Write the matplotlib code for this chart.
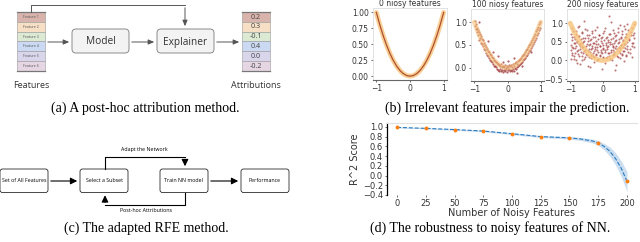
#Recreates the four panel figure: two diagrams and three plots
import matplotlib.pyplot as plt
from matplotlib.patches import FancyBboxPatch, Rectangle

# ---- data ----
feature_names = ["Feature 1", "Feature 2", "Feature 3", "Feature 4", "Feature 5", "Feature 6"]
attributions = ["0.2", "0.3", "-0.1", "0.4", "0.0", "-0.2"]
cell_colors = ["#d9b4ac", "#f6dfc5", "#dcead3", "#cbdaf2", "#d9d6ec", "#e6d6e4"]

# true function (parabola)
curve_x = [-1.0, -0.9, -0.8, -0.7, -0.6, -0.5, -0.4, -0.3, -0.2, -0.1, 0.0,
           0.1, 0.2, 0.3, 0.4, 0.5, 0.6, 0.7, 0.8, 0.9, 1.0]
curve_y = [1.0, 0.81, 0.64, 0.49, 0.36, 0.25, 0.16, 0.09, 0.04, 0.01, 0.0,
           0.01, 0.04, 0.09, 0.16, 0.25, 0.36, 0.49, 0.64, 0.81, 1.0]

# 100 noisy features
x100 = [-0.98, -0.97, -0.95, -0.94, -0.92, -0.91, -0.89, -0.88, -0.86, -0.85, -0.83, -0.82,
        -0.80, -0.79, -0.77, -0.76, -0.74, -0.73, -0.71, -0.70, -0.68, -0.67, -0.65, -0.64,
        -0.62, -0.61, -0.59, -0.58, -0.56, -0.55, -0.53, -0.52, -0.50, -0.49, -0.47, -0.46,
        -0.44, -0.43, -0.41, -0.40, -0.38, -0.37, -0.35, -0.34, -0.32, -0.31, -0.29, -0.28,
        -0.26, -0.25, -0.23, -0.22, -0.20, -0.19, -0.17, -0.16, -0.14, -0.13, -0.11, -0.10,
        -0.08, -0.07, -0.05, -0.04, -0.02, -0.01, 0.01, 0.02, 0.04, 0.05, 0.07, 0.08,
        0.10, 0.11, 0.13, 0.14, 0.16, 0.17, 0.19, 0.20, 0.22, 0.23, 0.25, 0.26,
        0.28, 0.29, 0.31, 0.32, 0.34, 0.35, 0.37, 0.38, 0.40, 0.41, 0.43, 0.44,
        0.46, 0.47, 0.49, 0.50, 0.52, 0.53, 0.55, 0.56, 0.58, 0.59, 0.61, 0.62,
        0.64, 0.65, 0.67, 0.68, 0.70, 0.71, 0.73, 0.74, 0.76, 0.77, 0.79, 0.80,
        0.82, 0.83, 0.85, 0.86, 0.88, 0.89, 0.91, 0.92, 0.94, 0.95, 0.97, 0.98,
        -0.60, -0.30, 0.00, 0.20, 0.45, 0.70, -0.85, -0.15, 0.30, -0.45]
y100 = [0.92, 1.02, 0.85, 0.95, 0.78, 0.88, 0.71, 0.83, 0.79, 0.62, 0.74, 0.66,
        0.70, 0.55, 0.63, 0.52, 0.60, 0.47, 0.55, 0.41, 0.50, 0.38, 0.46, 0.33,
        0.42, 0.29, 0.37, 0.25, 0.34, 0.22, 0.30, 0.18, 0.27, 0.14, 0.24, 0.12,
        0.21, 0.08, 0.17, 0.05, 0.15, 0.03, 0.13, 0.01, 0.10, -0.02, 0.09, -0.04,
        0.07, -0.06, 0.05, -0.03, 0.08, -0.08, 0.02, -0.05, 0.04, -0.10, 0.01, -0.04,
        0.06, -0.07, 0.00, -0.03, 0.05, -0.09, 0.02, -0.05, 0.07, -0.02, -0.08, 0.03,
        -0.04, 0.06, -0.06, 0.01, 0.08, -0.03, 0.04, -0.07, 0.10, 0.00, 0.12, -0.02,
        0.09, 0.02, 0.15, 0.04, 0.17, 0.06, 0.20, 0.08, 0.22, 0.11, 0.25, 0.13,
        0.28, 0.16, 0.31, 0.19, 0.34, 0.22, 0.38, 0.25, 0.41, 0.29, 0.45, 0.32,
        0.49, 0.36, 0.52, 0.40, 0.56, 0.44, 0.61, 0.47, 0.65, 0.52, 0.69, 0.57,
        0.74, 0.62, 0.80, 0.66, 0.85, 0.72, 0.90, 0.77, 0.95, 0.83, 1.00, 0.88,
        0.58, 0.25, 0.15, 0.22, 0.05, 0.35, 1.00, 0.12, -0.12, 0.35]

# 200 noisy features
x200 = [-0.99, -0.97, -0.96, -0.94, -0.93, -0.91, -0.89, -0.88, -0.86, -0.85,
        -0.83, -0.81, -0.80, -0.78, -0.77, -0.75, -0.73, -0.72, -0.70, -0.69,
        -0.67, -0.65, -0.64, -0.62, -0.61, -0.59, -0.57, -0.56, -0.54, -0.53,
        -0.51, -0.49, -0.48, -0.46, -0.45, -0.43, -0.41, -0.40, -0.38, -0.37,
        -0.35, -0.33, -0.32, -0.30, -0.29, -0.27, -0.25, -0.24, -0.22, -0.21,
        -0.19, -0.17, -0.16, -0.14, -0.13, -0.11, -0.09, -0.08, -0.06, -0.05,
        -0.03, -0.01, 0.00, 0.02, 0.03, 0.05, 0.07, 0.08, 0.10, 0.11,
        0.13, 0.15, 0.16, 0.18, 0.19, 0.21, 0.23, 0.24, 0.26, 0.27,
        0.29, 0.31, 0.32, 0.34, 0.35, 0.37, 0.39, 0.40, 0.42, 0.43,
        0.45, 0.47, 0.48, 0.50, 0.51, 0.53, 0.55, 0.56, 0.58, 0.59,
        0.61, 0.63, 0.64, 0.66, 0.67, 0.69, 0.71, 0.72, 0.74, 0.75,
        0.77, 0.79, 0.82, 0.85, 0.87, 0.90, 0.92, 0.95, 0.97, 0.99]
y200a = [0.42, 0.71, 0.15, 0.55, 0.88, 0.33, 0.05, 0.62, 0.47, 0.21,
         0.78, 0.38, -0.08, 0.51, 0.27, 0.66, 0.12, 0.93, 0.44, 0.30,
         0.58, 0.02, 0.36, 0.74, 0.19, 0.49, 1.05, 0.25, 0.61, 0.09,
         0.40, 0.83, 0.16, 0.53, -0.15, 0.31, 0.69, 0.23, 0.45, 0.07,
         0.57, 0.34, 0.79, 0.11, 0.48, 0.26, -0.05, 0.64, 0.37, 0.18,
         0.52, 0.91, 0.29, 0.03, 0.43, 0.68, 0.14, 0.39, 0.60, 0.22,
         -0.22, 0.47, 0.32, 0.75, 0.10, 0.54, 0.28, 0.86, 0.41, 0.06,
         0.35, 0.63, 0.20, 0.50, 1.18, 0.13, 0.44, 0.72, 0.24, 0.58,
         0.01, 0.39, 0.81, 0.27, 0.46, 0.17, 0.65, 0.33, -0.12, 0.56,
         0.30, 0.77, 0.08, 0.49, 0.36, 0.94, 0.21, 0.60, 0.42, 0.15,
         0.70, 0.26, 0.53, -0.02, 0.45, 0.84, 0.34, 0.12, 0.62, 0.40,
         0.97, 0.23, 0.55, 0.31, 0.76, 0.09, 0.48, 0.67, 0.37, 0.59]
y200b = [0.28, 0.05, 0.63, 0.37, 0.19, 0.80, 0.46, 0.12, 0.58, 0.34,
         0.02, 0.71, 0.25, 0.50, 0.89, 0.17, 0.43, 0.66, -0.10, 0.39,
         0.22, 0.76, 0.48, 0.11, 0.61, 0.35, 0.04, 0.53, 0.29, 0.85,
         0.18, 0.45, 0.67, 0.26, 0.59, 0.08, 0.41, -0.18, 0.56, 0.32,
         0.14, 0.73, 0.38, 0.21, 0.62, 0.47, 0.09, 0.30, 0.82, 0.44,
         0.16, 0.36, 0.00, 0.57, 0.24, 0.69, 0.40, 0.13, 0.51, 0.27,
         0.64, 0.19, 0.42, 0.06, 0.33, 0.78, 0.23, -0.07, 0.46, 0.60,
         0.31, 0.10, 0.55, 0.38, 0.20, 0.70, 0.04, 0.49, 0.29, 1.02,
         0.43, 0.15, 0.61, 0.35, 0.74, 0.22, 0.52, -0.25, 0.39, 0.68,
         0.12, 0.47, 0.86, 0.26, 0.57, 0.33, 0.07, 0.64, 0.41, 0.79,
         0.18, 0.54, 0.36, 0.92, 0.25, 0.63, 0.44, 0.14, 0.72, 0.50,
         0.30, 0.81, 0.58, 0.20, 0.67, 0.39, 0.88, 0.46, 0.73, 0.99]

# robustness curve (d)
noisy = [0, 25, 50, 75, 100, 125, 150, 175, 200]
r2 = [0.99, 0.97, 0.945, 0.915, 0.86, 0.80, 0.775, 0.67, -0.12]
fit_x = [0, 25, 50, 75, 100, 125, 150, 160, 170, 175, 180, 185, 190, 195, 200]
fit_y = [0.99, 0.97, 0.945, 0.915, 0.86, 0.80, 0.775, 0.75, 0.71, 0.67, 0.60, 0.50, 0.35, 0.15, -0.12]
fit_lo = [0.98, 0.96, 0.93, 0.90, 0.84, 0.78, 0.75, 0.72, 0.67, 0.62, 0.53, 0.40, 0.22, -0.02, -0.33]
fit_hi = [1.0, 0.98, 0.955, 0.93, 0.88, 0.82, 0.80, 0.78, 0.75, 0.72, 0.66, 0.59, 0.47, 0.30, 0.08]

fig = plt.figure(figsize=(6.4, 2.42), dpi=100)

# background axes in pixel coordinates for the diagrams and captions
bg = fig.add_axes([0, 0, 1, 1])
bg.set_xlim(0, 640)
bg.set_ylim(242, 0)
bg.axis("off")

serif = "Liberation Serif"
sans = "Open Sans"

# ---- (a) post-hoc attribution diagram ----
cell_h = 9.8
for i in range(6):
    y0 = 12 + i * cell_h
    bg.add_patch(Rectangle((17, y0), 28, cell_h, facecolor=cell_colors[i], edgecolor="#9a9a9a", lw=0.4))
    bg.text(31, y0 + cell_h / 2, feature_names[i], fontsize=2.6, ha="center", va="center", color="#555555", family=sans)
    bg.add_patch(Rectangle((242, y0), 28, cell_h, facecolor=cell_colors[i], edgecolor="#9a9a9a", lw=0.4))
    bg.text(256, y0 + cell_h / 2 + 0.3, attributions[i], fontsize=5.2, ha="center", va="center", color="#444444", family=sans)
bg.plot([17, 45], [12, 12], color="#777777", lw=0.9)
bg.plot([17, 45], [71, 71], color="#777777", lw=0.9)
bg.plot([242, 270], [12, 12], color="#777777", lw=0.9)
bg.plot([242, 270], [71, 71], color="#777777", lw=0.9)

for x0, label in [(72, "Model"), (157, "Explainer")]:
    bg.add_patch(FancyBboxPatch((x0, 29), 57, 24, boxstyle="round,pad=0,rounding_size=4",
                                facecolor="#f3f3f3", edgecolor="#8a8a8a", lw=0.7))
    bg.text(x0 + 28.5, 42, label, fontsize=7.3, ha="center", va="center", color="#333333", family=sans)

arrow_a = dict(arrowstyle="-|>,head_length=0.35,head_width=0.15", color="#555555", lw=0.7)
bg.annotate("", xy=(72, 42), xytext=(45, 42), arrowprops=arrow_a)
bg.annotate("", xy=(157, 42), xytext=(129, 42), arrowprops=arrow_a)
bg.annotate("", xy=(242, 42), xytext=(214, 42), arrowprops=arrow_a)
bg.plot([31, 31, 185], [12, 5, 5], color="#555555", lw=0.7)
bg.annotate("", xy=(185, 29), xytext=(185, 5), arrowprops=arrow_a)
bg.text(31, 85, "Features", fontsize=6.5, ha="center", va="center", color="#333333", family=sans)
bg.text(256, 85, "Attributions", fontsize=6.5, ha="center", va="center", color="#333333", family=sans)
bg.text(145, 108, "(a) A post-hoc attribution method.", fontsize=10, ha="center", va="center", family=serif)

# ---- (c) adapted RFE diagram ----
boxes_c = [(0, "Set of All Features"), (80, "Select a Subset"), (160, "Train NN model"), (241, "Performance")]
for x0, label in boxes_c:
    bg.add_patch(FancyBboxPatch((x0, 169), 48, 23.5, boxstyle="round,pad=0,rounding_size=2.5",
                                facecolor="white", edgecolor="black", lw=0.5))
    bg.text(x0 + 24, 181, label, fontsize=3.8, ha="center", va="center", family=sans)
arrow_c = dict(arrowstyle="-|>,head_length=0.4,head_width=0.2", color="black", lw=0.8)
bg.annotate("", xy=(80, 181), xytext=(48, 181), arrowprops=arrow_c)
bg.annotate("", xy=(241, 181), xytext=(208, 181), arrowprops=arrow_c)
bg.plot([105, 105, 185], [169, 157, 157], color="black", lw=0.8)
bg.annotate("", xy=(185, 169), xytext=(185, 157), arrowprops=arrow_c)
bg.plot([185, 185, 105], [192.5, 205, 205], color="black", lw=0.8)
bg.annotate("", xy=(105, 192.5), xytext=(105, 205), arrowprops=arrow_c)
bg.text(144, 150, "Adapt the Network", fontsize=3.8, ha="center", va="center", family=sans)
bg.text(146, 211, "Post-hoc Attributions", fontsize=3.8, ha="center", va="center", family=sans)
bg.text(146, 228, "(c) The adapted RFE method.", fontsize=10, ha="center", va="center", family=serif)

# ---- (b) three scatter panels ----
dot_color = "#9b2d2d"
curve_color = "#f7c47c"
rects_b = [[373 / 640, 162 / 242, 74 / 640, 72 / 242],
           [471 / 640, 161 / 242, 73 / 640, 72 / 242],
           [567 / 640, 161 / 242, 71 / 640, 72 / 242]]
titles_b = ["0 niosy features", "100 niosy features", "200 niosy features"]
axs = [fig.add_axes(r) for r in rects_b]

axs[0].plot(curve_x, curve_y, color=curve_color, lw=3.5, alpha=0.8, solid_capstyle="round")
axs[0].plot(curve_x, curve_y, color="#b0502e", lw=0.9)
axs[0].set_ylim(-0.06, 1.07)
axs[0].set_yticks([0.0, 0.25, 0.5, 0.75, 1.0])

axs[1].scatter(x100, y100, s=2.5, color=dot_color, alpha=0.75, lw=0)
axs[1].plot(curve_x, curve_y, color=curve_color, lw=3.5, alpha=0.6, solid_capstyle="round", zorder=3)
axs[1].set_ylim(-0.29, 1.29)
axs[1].set_yticks([0.0, 0.5, 1.0])

axs[2].scatter(x200, y200a, s=2.2, color=dot_color, alpha=0.65, lw=0)
axs[2].scatter(x200, y200b, s=2.2, color=dot_color, alpha=0.65, lw=0)
axs[2].plot(curve_x, curve_y, color=curve_color, lw=3.5, alpha=0.8, solid_capstyle="round", zorder=3)
axs[2].set_ylim(-0.55, 1.38)
axs[2].set_yticks([-0.5, 0.0, 0.5, 1.0])

for ax, t in zip(axs, titles_b):
    ax.set_xlim(-1.1, 1.1)
    ax.set_xticks([-1, 0, 1])
    ax.set_title(t, fontsize=5.5, pad=1, color="#333333")
    ax.tick_params(labelsize=5.5, length=1.5, width=0.5, pad=1.5, colors="#333333")
    for s in ["top", "right", "left"]:
        ax.spines[s].set_color("#dddddd")
        ax.spines[s].set_linewidth(0.6)
    ax.spines["bottom"].set_color("#666666")
    ax.spines["bottom"].set_linewidth(0.8)
bg.text(507, 108, "(b) Irrelevant features impair the prediction.", fontsize=10, ha="center", va="center", family=serif)

# ---- (d) robustness to noisy features ----
axd = fig.add_axes([387 / 640, 47 / 242, 250 / 640, 72 / 242])
axd.fill_between(fit_x, fit_lo, fit_hi, color="#a9c8e6", alpha=0.6, lw=0)
axd.plot(fit_x, fit_y, color="#2a7bbf", lw=0.8, ls="--")
axd.plot(noisy, r2, "o", color="#ff7f0e", ms=2.8, mew=0)
axd.set_xlim(-8.7, 208.7)
axd.set_ylim(-0.4, 1.08)
axd.set_xticks(noisy)
axd.set_yticks([-0.4, -0.2, 0.0, 0.2, 0.4, 0.6, 0.8, 1.0])
axd.tick_params(labelsize=6, length=1.5, width=0.5, pad=1.5, colors="#333333")
axd.set_xlabel("Number of Noisy Features", fontsize=7, labelpad=0, color="#333333")
axd.set_ylabel("R^2 Score", fontsize=7, labelpad=2, color="#333333")
axd.spines["left"].set_color("black")
axd.spines["left"].set_linewidth(0.9)
axd.spines["top"].set_color("#e0e0e0")
axd.spines["right"].set_visible(False)
axd.spines["bottom"].set_visible(False)
bg.text(490, 228, "(d) The robustness to noisy features of NN.", fontsize=10, ha="center", va="center", family=serif)

plt.savefig("out.png", dpi=100)
